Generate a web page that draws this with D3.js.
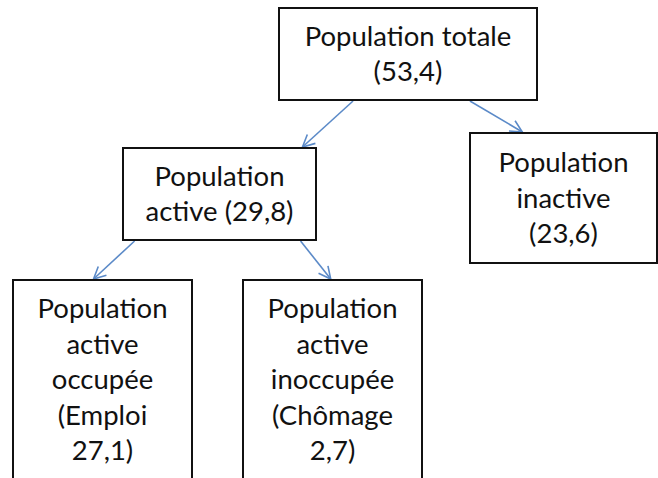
<!DOCTYPE html>
<html>
<head>
<meta charset="utf-8">
<script src="https://cdn.jsdelivr.net/npm/d3@7"></script>
<style>
  html, body { margin: 0; padding: 0; background: #fff; }
  svg { display: block; }
</style>
</head>
<body>
<svg class="chart"></svg>
<script>
// tree data
const nodeIds = ['total', 'active', 'inactive', 'emploi', 'chomage'];
const nodeParents = [null, 'total', 'total', 'active', 'active'];
const nodeValues = [53.4, 29.8, 23.6, 27.1, 2.7];
const nodeLabels = [
  ['Population totale', '({v})'],
  ['Population', 'active ({v})'],
  ['Population', 'inactive', '({v})'],
  ['Population', 'active', 'occupée', '(Emploi', '{v})'],
  ['Population', 'active', 'inoccupée', '(Chômage', '{v})']
];

const width = 658, height = 478;

// box placement (x0, y0, x1, y1) and where the arrows leave / land
const boxes = {
  total:    [279, 8, 537, 100],
  active:   [123, 148, 316, 240],
  inactive: [470, 133, 657, 263],
  emploi:   [13, 280, 192, 479],
  chomage:  [243, 280, 422, 479]
};
const linkAnchors = {
  active:   [0.287, 0.93],
  inactive: [0.74, 0.28],
  emploi:   [0.06, 0.45],
  chomage:  [0.92, 0.49]
};

const fmt = v => d3.format('.1f')(v).replace('.', ',');

const table = nodeIds.map((id, i) => ({
  id: id, parent: nodeParents[i], value: nodeValues[i], lines: nodeLabels[i]
}));
const root = d3.stratify().id(d => d.id).parentId(d => d.parent)(table);

const svg = d3.select('.chart')
  .attr('width', width)
  .attr('height', height);

svg.append('defs').append('marker')
  .attr('id', 'arrow')
  .attr('markerUnits', 'userSpaceOnUse')
  .attr('viewBox', '-1 -8 14 16')
  .attr('markerWidth', 14)
  .attr('markerHeight', 16)
  .attr('refX', 12)
  .attr('refY', 0)
  .attr('orient', 'auto')
  .append('path')
  .attr('d', 'M0,-6L12,0L0,6')
  .attr('fill', 'none')
  .attr('stroke', '#5b8ac8')
  .attr('stroke-width', 1.6);

// links
svg.selectAll('line.link')
  .data(root.links())
  .enter().append('line')
  .attr('class', 'link')
  .attr('x1', d => { const b = boxes[d.source.id]; return b[0] + (b[2] - b[0]) * linkAnchors[d.target.id][0]; })
  .attr('y1', d => boxes[d.source.id][3] + 1)
  .attr('x2', d => { const b = boxes[d.target.id]; return b[0] + (b[2] - b[0]) * linkAnchors[d.target.id][1]; })
  .attr('y2', d => boxes[d.target.id][1] - 1)
  .attr('stroke', '#5b8ac8')
  .attr('stroke-width', 1.6)
  .attr('marker-end', 'url(#arrow)');

// boxes
const node = svg.selectAll('g.node')
  .data(root.descendants())
  .enter().append('g')
  .attr('class', 'node');

node.append('rect')
  .attr('x', d => boxes[d.id][0])
  .attr('y', d => boxes[d.id][1])
  .attr('width', d => boxes[d.id][2] - boxes[d.id][0])
  .attr('height', d => boxes[d.id][3] - boxes[d.id][1])
  .attr('fill', '#fff')
  .attr('stroke', '#111')
  .attr('stroke-width', 2);

const lh = 35.5, fontSize = 27.5;

node.each(function(d) {
  const b = boxes[d.id];
  const cx = (b[0] + b[2]) / 2, cy = (b[1] + b[3]) / 2;
  const n = d.data.lines.length;
  d3.select(this).selectAll('text')
    .data(d.data.lines.map(s => s.replace('{v}', fmt(d.data.value))))
    .enter().append('text')
    .attr('x', cx)
    .attr('y', (s, i) => cy + (i - (n - 1) / 2) * lh + fontSize * 0.35)
    .style('font-family', 'Lato, "Open Sans", sans-serif')
    .style('font-size', fontSize + 'px')
    .style('text-anchor', 'middle')
    .style('fill', '#111')
    .text(s => s);
});
</script>
</body>
</html>
